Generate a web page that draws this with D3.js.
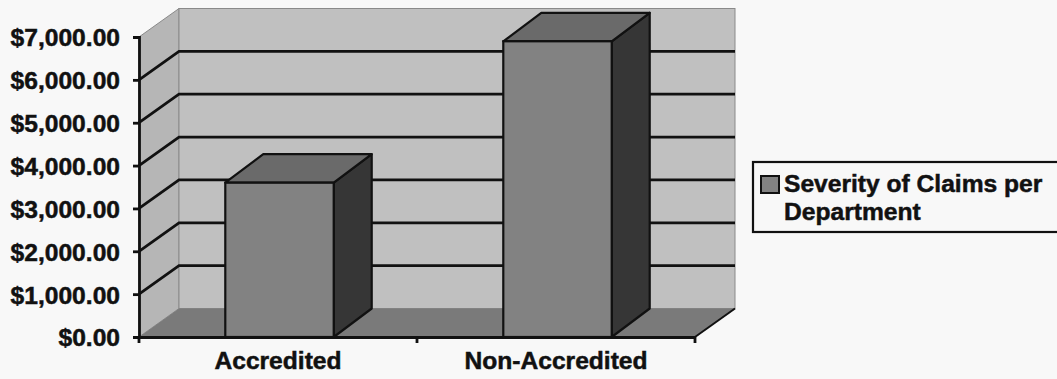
<!DOCTYPE html>
<html>
<head>
<meta charset="utf-8">
<script src="https://cdn.jsdelivr.net/npm/d3@7"></script>
<style>
  html, body { margin: 0; padding: 0; background: #f8f8f8; }
  svg { display: block; }
  .lbl { font-family: "Liberation Sans", Arial, sans-serif; font-weight: bold; font-size: 24.6px; fill: #111; stroke: #111; stroke-width: 0.5px; }
</style>
</head>
<body>
<svg id="chart" width="1057" height="379"></svg>
<script>
// Severity of claims, by accreditation status
const categories = ["Accredited", "Non-Accredited"];
const seriesName = "Severity of Claims per Department";
const severity = [3600, 6900];
const yTicks = [0, 1000, 2000, 3000, 4000, 5000, 6000, 7000];

const svg = d3.select("#chart");

// plot frame (front plane) and the 3D depth offset
const plotLeft = 139, plotRight = 695, plotTop = 37, plotBottom = 337;
const depthX = 40, depthY = 28.5;

const x = d3.scaleBand().domain(categories).range([plotLeft, plotRight]).padding(0);
const y = d3.scaleLinear().domain([0, 7000]).range([plotBottom, plotTop]);
const barFrac = 0.39;

const colors = {
  backWall: "#c0c0c0",
  sideWall: "#b6b6b6",
  floor: "#7a7a7a",
  front: "#828282",
  topFace: "#6a6a6a",
  side: "#363636",
  wallEdge: "#8a8a8a"
};

const line = d3.line();
const g = svg.append("g");

// left wall
g.append("path")
  .attr("d", line([[plotLeft, y(0)], [plotLeft, y(7000)], [plotLeft + depthX, y(7000) - depthY], [plotLeft + depthX, y(0) - depthY]]) + "Z")
  .attr("fill", colors.sideWall).attr("stroke", colors.wallEdge).attr("stroke-width", 1);

// back wall
g.append("rect")
  .attr("x", plotLeft + depthX).attr("y", y(7000) - depthY)
  .attr("width", plotRight - plotLeft).attr("height", y(0) - y(7000))
  .attr("fill", colors.backWall).attr("stroke", colors.wallEdge).attr("stroke-width", 1);

// floor
g.append("path")
  .attr("d", line([[plotLeft, y(0)], [plotLeft + depthX, y(0) - depthY], [plotRight + depthX, y(0) - depthY], [plotRight, y(0)]]) + "Z")
  .attr("fill", colors.floor);
g.append("line")
  .attr("x1", plotRight).attr("y1", y(0)).attr("x2", plotRight + depthX).attr("y2", y(0) - depthY)
  .attr("stroke", "#111").attr("stroke-width", 2);

// gridlines across the left wall and back wall
const grid = yTicks.filter(t => t > 0 && t < 7000);
g.selectAll("path.grid").data(grid).join("path")
  .attr("class", "grid")
  .attr("d", t => line([[plotLeft, y(t)], [plotLeft + depthX, y(t) - depthY], [plotRight + depthX, y(t) - depthY]]))
  .attr("fill", "none").attr("stroke", "#111").attr("stroke-width", 2.8);

// bars as boxes: front, top and side faces
const bars = g.selectAll("g.bar").data(categories.map((c, i) => ({ c, v: severity[i] }))).join("g").attr("class", "bar");
const bw = x.bandwidth() * barFrac;
const bx0 = d => x(d.c) + (x.bandwidth() - bw) / 2 + 1.5;
const bx1 = d => bx0(d) + bw;

bars.append("path")
  .attr("d", d => line([[bx1(d), y(d.v)], [bx1(d) + depthX - 2, y(d.v) - depthY], [bx1(d) + depthX - 2, y(0) - depthY], [bx1(d), y(0)]]) + "Z")
  .attr("fill", colors.side).attr("stroke", "#111").attr("stroke-width", 2.2).attr("stroke-linejoin", "round");
bars.append("path")
  .attr("d", d => line([[bx0(d), y(d.v)], [bx0(d) + depthX - 2, y(d.v) - depthY], [bx1(d) + depthX - 2, y(d.v) - depthY], [bx1(d), y(d.v)]]) + "Z")
  .attr("fill", colors.topFace).attr("stroke", "#111").attr("stroke-width", 2.2).attr("stroke-linejoin", "round");
bars.append("rect")
  .attr("x", d => bx0(d)).attr("y", d => y(d.v))
  .attr("width", bw).attr("height", d => y(0) - y(d.v))
  .attr("fill", colors.front).attr("stroke", "#111").attr("stroke-width", 2.2);

// value axis
const yAxis = svg.append("g")
  .attr("transform", `translate(${plotLeft},0)`)
  .call(d3.axisLeft(y).tickValues(yTicks).tickFormat(d3.format("$,.2f")).tickSize(6).tickPadding(13));
yAxis.select(".domain").attr("stroke", "#111").attr("stroke-width", 2.8);
yAxis.selectAll(".tick line").attr("stroke", "#111").attr("stroke-width", 2.8);
yAxis.selectAll(".tick text").attr("class", "lbl").attr("dy", "0.36em");

// category axis
const xAxis = svg.append("g")
  .attr("transform", `translate(0,${plotBottom})`)
  .call(d3.axisBottom(x).tickSize(0).tickPadding(20));
xAxis.select(".domain").attr("stroke", "#111").attr("stroke-width", 2.8);
xAxis.selectAll(".tick text").attr("class", "lbl").attr("dy", "0.5em");
xAxis.selectAll("line.sep").data([plotLeft, plotLeft + x.bandwidth(), plotRight]).join("line")
  .attr("class", "sep")
  .attr("x1", d => d).attr("x2", d => d).attr("y1", 0).attr("y2", 6)
  .attr("stroke", "#111").attr("stroke-width", 2.8);

// legend
const lg = svg.append("g").attr("transform", "translate(753,162)");
lg.append("rect").attr("x", 0).attr("y", 0).attr("width", 320).attr("height", 70)
  .attr("fill", "#f8f8f8").attr("stroke", "#111").attr("stroke-width", 2.2);
lg.append("rect").attr("x", 8).attr("y", 14).attr("width", 18).attr("height", 17)
  .attr("fill", colors.front).attr("stroke", "#111").attr("stroke-width", 2);
const words = seriesName.split(" ");
const legendLines = [words.slice(0, 4).join(" "), words.slice(4).join(" ")];
lg.selectAll("text").data(legendLines).join("text")
  .attr("class", "lbl")
  .attr("x", 31).attr("y", (d, i) => 30 + i * 28)
  .text(d => d);
</script>
</body>
</html>
